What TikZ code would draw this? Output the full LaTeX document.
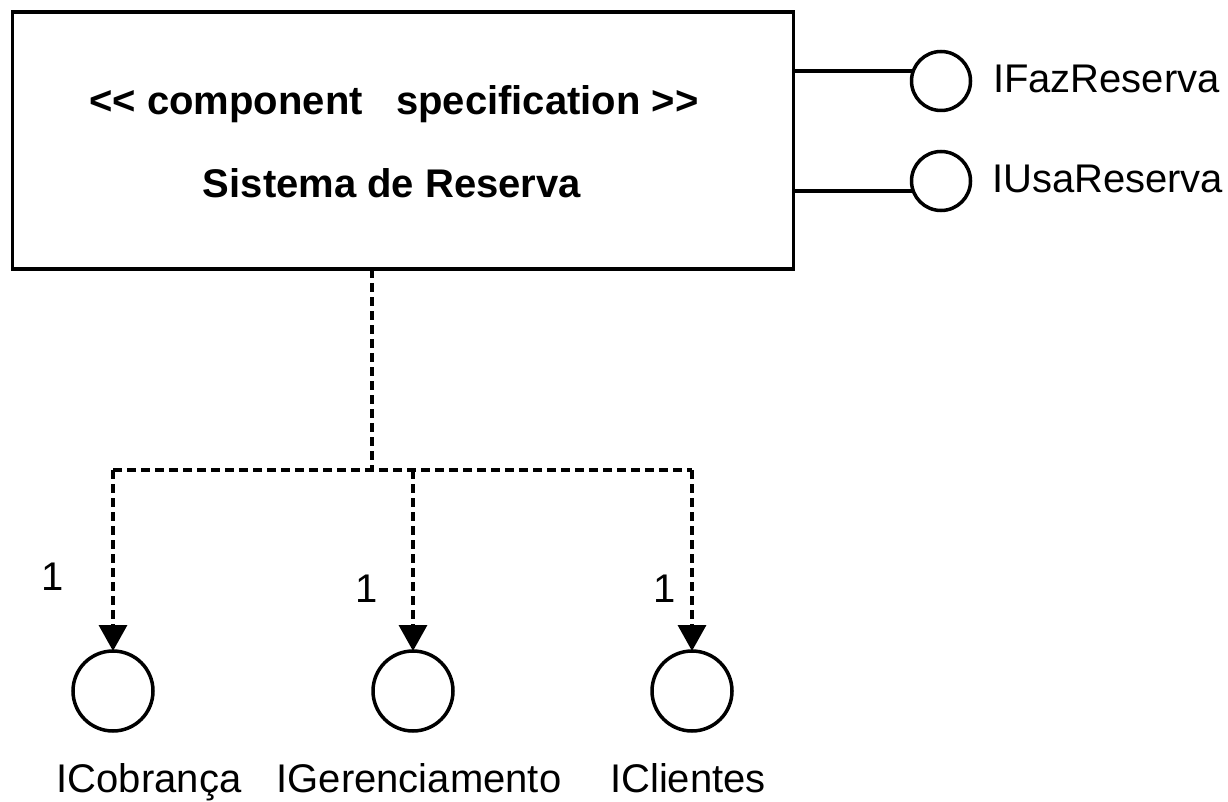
\documentclass[tikz,border=0pt]{standalone}
\usepackage{fontspec}
\setmainfont{Liberation Sans}
\usetikzlibrary{arrows.meta}

\begin{document}
\begin{tikzpicture}[x=1pt, y=-1pt,
  every node/.style={inner sep=0pt, outer sep=0pt, font=\fontsize{40}{48}\selectfont},
  comp/.style={draw, line width=3.5pt, minimum width=781pt, minimum height=257pt},
  iface/.style={draw, circle, line width=3.5pt, minimum size=#1},
  lolly/.style={line width=3.5pt},
  dep/.style={line width=3.5pt, dash pattern=on 9pt off 5pt},
  deparrow/.style={dep, -{Triangle[length=26pt, width=28pt]}},
  lbl/.style={anchor=base}
]
\useasboundingbox (0,0) rectangle (1228,802);

% component box
\node[comp] (sys) at (403,140.5) {};
\node[lbl, font=\fontsize{40}{48}\selectfont\bfseries] (stereo) at (394,115)
  {<{}< component\ \ \ specification >{}>};
\node[lbl, font=\fontsize{40}{48}\selectfont\bfseries] (name) at (392,198)
  {Sistema de Reserva};

% provided interfaces
\node[iface=59pt] (fz) at (941,81) {};
\node[iface=59pt] (us) at (941,181) {};
\draw[lolly] (sys.east |- fz.160) -- (fz.160);
\draw[lolly] (sys.east |- us.200) -- (us.200);
\node[lbl, anchor=base west] (fzl) at (993,93) {IFazReserva};
\node[lbl, anchor=base west] (usl) at (992,193) {IUsaReserva};

% required interfaces
\node[iface=80pt] (cb) at (113,691) {};
\node[iface=80pt] (gr) at (413,691) {};
\node[iface=80pt] (cl) at (692,691) {};
\node[lbl] (cbl) at (149,792) {ICobrança};
\node[lbl] (grl) at (419,792) {IGerenciamento};
\node[lbl] (cll) at (688,792) {IClientes};

% dependencies
\coordinate (j) at (372,470);
\draw[dep] (sys.south -| j) -- (j);
\draw[dep] (cb |- j) -- (cl |- j);
\draw[deparrow] (cb |- j) -- (cb.north);
\draw[deparrow] (gr |- j) -- (gr.north);
\draw[deparrow] (cl |- j) -- (cl.north);

% multiplicities
\node[lbl] (m1) at (53,590) {1};
\node[lbl] (m2) at (367,602) {1};
\node[lbl] (m3) at (665,602) {1};
\end{tikzpicture}
\end{document}
